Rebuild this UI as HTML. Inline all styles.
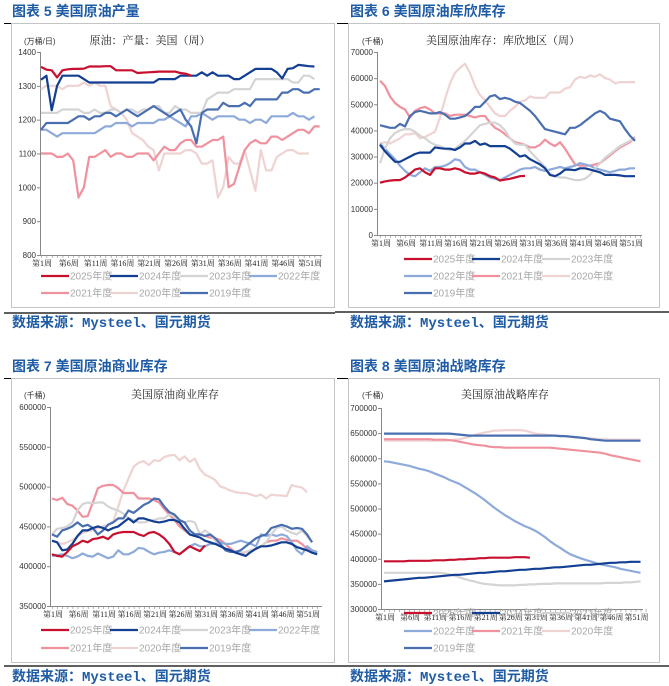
<!DOCTYPE html>
<html><head><meta charset="utf-8">
<style>
html,body{margin:0;padding:0;background:#fff;}
svg{display:block;}
.ttl{font-family:"Liberation Sans","Noto Sans CJK SC",sans-serif;font-size:14px;font-weight:bold;fill:#1f5ca6;}
.src{font-family:"Liberation Mono","Noto Sans CJK SC",monospace;font-size:14px;font-weight:bold;fill:#1f5ca6;}
.ct{font-family:"Liberation Serif","Noto Serif CJK SC",serif;font-size:11px;fill:#222;}
.un{font-family:"Liberation Sans","Noto Sans CJK SC",sans-serif;font-size:8px;fill:#333;}
.yt{font-family:"Liberation Sans",sans-serif;font-size:8px;fill:#333;}
.xt{font-family:"Liberation Serif","Noto Serif CJK SC",serif;font-size:8px;fill:#222;}
.lg{font-family:"Liberation Sans","Noto Sans CJK SC",sans-serif;font-size:10px;fill:#a8a8a8;}
</style></head>
<body>
<svg id="page" width="669" height="686" viewBox="0 0 669 686" xmlns="http://www.w3.org/2000/svg">
<text class="ttl" x="12" y="16">图表 5 美国原油产量</text>
<text class="ttl" x="350" y="16">图表 6 美国原油库欣库存</text>
<text class="ttl" x="12" y="371">图表 7 美国原油商业库存</text>
<text class="ttl" x="350" y="371">图表 8 美国原油战略库存</text>
<rect x="11.5" y="23.5" width="323" height="284" fill="none" stroke="#c4c4c4"/>
<rect x="348.5" y="23.5" width="311" height="284" fill="none" stroke="#c4c4c4"/>
<rect x="11.5" y="378.5" width="323" height="284" fill="none" stroke="#c4c4c4"/>
<rect x="348.5" y="378.5" width="311" height="284" fill="none" stroke="#c4c4c4"/>
<line x1="4" y1="23.5" x2="11" y2="23.5" stroke="#000"/>
<line x1="337" y1="23.5" x2="348" y2="23.5" stroke="#000"/>
<line x1="4" y1="378.5" x2="11" y2="378.5" stroke="#000"/>
<line x1="337" y1="378.5" x2="348" y2="378.5" stroke="#000"/>
<line x1="4" y1="313" x2="335" y2="313" stroke="#000" stroke-width="1.2"/>
<line x1="335" y1="312" x2="669" y2="312" stroke="#000" stroke-width="1.2"/>
<line x1="4" y1="666" x2="335" y2="666" stroke="#000" stroke-width="1.2"/>
<line x1="335" y1="666" x2="669" y2="666" stroke="#000" stroke-width="1.2"/>
<text class="src" x="12" y="327">数据来源：Mysteel、国元期货</text>
<text class="src" x="350" y="327">数据来源：Mysteel、国元期货</text>
<text class="src" x="12" y="681">数据来源：Mysteel、国元期货</text>
<text class="src" x="350" y="681">数据来源：Mysteel、国元期货</text>
</svg>
<script>
// ---------- Chart 1: production (万桶/日) ----------
const c1Ticks = [800, 900, 1000, 1100, 1200, 1300, 1400];
const c1y2025 = [1356,1348,1346,1325,1346,1349,1350,1350,1351,1357,1357,1357,1358,1358,1346,1346,1346,1346,1338,1339,1340,1341,1342,1342,1342,1342,1338,1336,1330];
const c1y2024 = [1318,1330,1228,1300,1330,1330,1330,1330,1320,1310,1310,1310,1310,1310,1310,1310,1310,1310,1310,1310,1310,1310,1320,1320,1320,1320,1330,1330,1330,1330,1340,1330,1340,1330,1330,1330,1320,1320,1330,1340,1350,1350,1350,1350,1340,1322,1350,1352,1362,1360,1358,1357];
const c1y2023 = [1220,1220,1220,1220,1230,1230,1230,1230,1220,1220,1230,1220,1220,1230,1230,1220,1230,1230,1220,1230,1230,1240,1240,1220,1220,1240,1230,1230,1220,1220,1220,1260,1270,1280,1280,1280,1290,1290,1290,1290,1320,1320,1320,1320,1320,1320,1320,1310,1310,1330,1330,1320];
const c1y2022 = [1170,1170,1160,1150,1160,1160,1160,1160,1160,1160,1160,1170,1180,1180,1190,1190,1190,1180,1190,1190,1190,1190,1200,1200,1210,1200,1190,1180,1210,1210,1220,1210,1200,1210,1210,1210,1210,1200,1200,1190,1200,1200,1190,1210,1210,1210,1210,1220,1210,1210,1200,1210];
const c1y2021 = [1100,1100,1100,1090,1090,1100,1080,970,1000,1090,1090,1100,1110,1090,1100,1100,1090,1090,1100,1100,1100,1080,1100,1120,1110,1110,1130,1140,1140,1120,1120,1130,1140,1140,1150,1000,1010,1060,1110,1130,1140,1130,1130,1150,1150,1140,1150,1160,1170,1170,1160,1180,1180];
const c1y2020 = [1290,1300,1300,1300,1290,1300,1300,1300,1310,1300,1310,1300,1300,1240,1230,1220,1200,1160,1150,1140,1120,1110,1050,1100,1100,1100,1100,1110,1110,1100,1070,1070,1080,970,1000,1090,1070,1070,1110,1050,990,1110,1050,1050,1090,1100,1110,1110,1100,1100,1100];
const c1y2019 = [1170,1190,1190,1190,1190,1190,1200,1210,1210,1200,1210,1210,1220,1220,1210,1220,1230,1220,1210,1220,1230,1240,1230,1220,1210,1220,1230,1200,1180,1130,1220,1230,1230,1230,1250,1240,1240,1240,1250,1240,1260,1260,1260,1260,1260,1280,1280,1290,1290,1280,1280,1290,1290];

// ---------- Chart 2: Cushing (千桶) ----------
const c2Ticks = [0, 10000, 20000, 30000, 40000, 50000, 60000, 70000];
const c2y2025 = [20000,20500,20800,21000,21000,22000,23500,25000,25500,24000,23000,25500,25500,25000,25000,25500,25000,24000,23500,23500,24000,23500,22500,22000,20800,21200,21500,22000,22500,22600];
const c2y2024 = [34500,32000,30000,28000,28000,29000,30000,31000,31500,31500,31500,33500,33200,33000,33000,32500,33500,35000,35000,36000,34500,35000,34000,34000,34000,34000,33000,31500,30000,30500,29000,28000,27000,25500,23000,22500,23500,25000,25000,24800,25500,25500,25000,24500,24000,23000,23000,23000,22800,22500,22500,22500];
const c2y2023 = [27500,33000,37000,39000,40000,40500,40500,39500,38000,37000,35500,34500,34000,33000,32500,33000,34500,36000,38000,40000,42000,42500,43000,43000,42000,40000,37000,35000,34500,34500,32000,30000,28000,26000,23500,22500,22000,22000,21500,21000,21000,21500,23000,25500,27500,29500,31000,32500,34000,35000,36000,37000];
const c2y2022 = [35000,33000,31000,29000,26500,24500,23000,22500,24000,25500,24500,26000,26000,26500,27500,29000,28500,26000,25000,25000,24000,23000,22000,21500,21000,22000,23000,24000,25000,25500,25500,26000,25000,24500,25000,25500,26000,25500,26000,26500,27500,27000,26500,25500,25000,24500,24000,24500,25000,25000,25500,25500];
const c2y2021 = [59000,57000,53000,50500,49000,48000,45000,47500,48500,49000,48000,46500,46500,46500,45500,46000,46000,46000,45500,45000,45500,45500,43000,41000,40000,38500,37000,35500,35000,34500,33500,33500,34500,36500,35000,34000,35500,33000,30000,27000,26500,26500,26500,27000,27500,29000,30500,32000,33500,34500,35500,37500];
const c2y2020 = [35000,35500,35000,36000,37000,38500,38500,39000,37000,37500,38500,39500,45000,52000,58000,62000,64000,65500,62000,57000,53500,51500,49000,46500,45500,45500,47500,49000,51000,51500,53000,52500,52500,52500,54500,54500,54500,56000,56500,59500,60500,60000,61000,60500,61500,60000,59500,58000,58500,58500,58500,58500];
const c2y2019 = [42000,41500,41000,41000,42500,41500,45500,47000,47500,47000,46500,46500,47000,46000,44500,44500,45000,45500,47000,49000,49000,51000,53000,53500,52000,52500,52000,51000,50500,49000,47500,45500,43000,40500,40000,39500,39000,38500,41000,41000,42000,43500,45000,46500,47500,46500,44500,44000,43500,40500,38000,36000];

// ---------- Chart 3: commercial (千桶, values in thousands) ----------
const c3Ticks = [350, 400, 450, 500, 550, 600];
const c3y2025 = [415,413,412,418,425,428,432,430,434,435,437,434,440,442,443,443,443,440,438,442,443,440,435,428,418,415,420,425,422,419,426];
const c3y2024 = [432,430,420,421,428,438,445,445,448,450,448,445,448,450,455,460,455,460,460,458,456,455,456,458,458,455,447,440,438,436,432,430,428,425,422,420,417,415,413,418,422,425,425,426,428,430,430,428,424,422,420,417,415];
const c3y2023 = [440,447,448,450,455,470,478,480,479,480,480,475,472,470,466,460,458,455,455,457,458,460,460,465,463,455,455,457,455,440,445,440,432,428,422,420,418,417,418,420,422,425,430,440,448,450,445,442,440,445,438,430];
const c3y2022 = [413,414,415,413,410,412,416,413,412,416,413,410,412,420,415,415,418,423,422,418,415,417,418,420,418,415,420,425,428,425,425,428,428,430,428,428,430,432,430,428,425,440,438,440,438,440,438,430,420,415,425,420,418];
const c3y2021 = [485,483,486,478,476,470,462,463,480,498,501,502,502,498,492,492,492,485,485,485,483,480,472,465,458,450,445,440,438,440,438,436,435,433,428,422,418,415,418,420,422,425,430,432,432,435,433,432,432,428,422,420,417];
const c3y2020 = [432,430,428,430,433,437,442,444,445,448,450,452,456,475,495,510,525,530,532,527,533,532,537,539,540,533,538,531,535,522,515,512,508,500,498,495,493,492,492,490,488,490,485,490,489,489,488,502,500,499,493];
const c3y2019 = [440,437,445,447,450,455,450,452,448,440,445,452,455,460,460,470,467,472,477,480,485,484,475,468,465,458,455,445,440,440,438,440,435,428,420,418,418,420,425,430,435,438,440,448,450,452,450,447,448,447,440,430];

// ---------- Chart 4: SPR (千桶, values in thousands) ----------
const c4Ticks = [300, 350, 400, 450, 500, 550, 600, 650, 700];
const c4y2025 = [395,395,395,395,395,396,396,396,396,396,397,397,397,398,398,399,399,400,400,401,401,402,402,402,402,402,403,403,403,402];
const c4y2024 = [355,356,357,358,359,360,361,362,362,363,364,365,366,367,368,368,369,370,371,372,372,373,374,375,375,376,377,378,378,379,380,380,381,382,383,383,384,385,386,387,388,388,389,390,391,392,392,393,393,394,394,394];
const c4y2023 = [372,372,372,372,372,372,372,372,372,372,372,372,371,369,366,363,360,357,355,352,350,349,348,347,347,347,347,348,348,349,349,350,350,350,351,351,351,351,351,351,351,351,351,351,352,352,352,352,353,353,354,355];
const c4y2022 = [594,593,591,589,587,585,582,579,577,574,570,566,562,557,553,549,543,537,531,524,517,509,501,494,487,481,475,470,465,461,456,450,443,435,428,422,415,409,405,401,398,395,392,389,387,385,383,380,378,376,374,372];
const c4y2021 = [638,638,638,638,638,638,638,638,638,638,637,637,637,636,635,633,631,629,627,626,625,623,622,622,621,621,621,621,621,621,621,621,621,621,620,619,618,617,616,615,614,613,612,611,609,606,604,602,600,598,596,594];
const c4y2020 = [635,635,635,635,635,635,635,635,635,635,635,635,635,636,637,638,640,643,646,649,651,653,655,655,656,656,656,656,655,652,649,648,647,646,645,645,644,643,642,641,640,640,639,638,638,637,637,637,637,637,637,637];
const c4y2019 = [649,649,649,649,649,649,649,649,649,649,649,649,649,649,648,647,646,645,645,645,645,645,645,645,645,645,645,645,645,645,645,645,645,645,645,644,644,643,642,641,640,638,637,636,635,635,635,635,635,635,635,635];

const weekLabels = ["第1周","第6周","第11周","第16周","第21周","第26周","第31周","第36周","第41周","第46周","第51周"];
const seriesNames = ["2025年度","2024年度","2023年度","2022年度","2021年度","2020年度","2019年度"];
const colors = ["#c8102e","#123f91","#d4d4d4","#8eaadb","#f0919e","#efd3d3","#4a6fb0"];

const NS = "http://www.w3.org/2000/svg";
const svg = document.getElementById("page");
function mk(tag, attrs, parent) {
  const e = document.createElementNS(NS, tag);
  for (const k in attrs) e.setAttribute(k, attrs[k]);
  (parent || svg).appendChild(e);
  return e;
}

function drawChart(cfg) {
  const g = mk("g", {});
  
  
  const yv = v => cfg.y0 + (v - cfg.vmin) / (cfg.vmax - cfg.vmin) * (cfg.y1 - cfg.y0);
  const xv = i => cfg.xs + i * cfg.step;
  const t = mk("text", {class: "ct", x: cfg.titleX, y: cfg.titleY, "text-anchor": "middle"}, g);
  t.textContent = cfg.title;
  
  
  const u = mk("text", {class: "un", x: cfg.unitX, y: cfg.titleY}, g);
  u.textContent = cfg.unit;
  
  
  const ya = mk("line", {x1: cfg.ax + 0.5, y1: cfg.y1, x2: cfg.ax + 0.5, y2: cfg.y0, stroke: "#888", "stroke-width": 1}, g);
  
  
  const xa = mk("line", {x1: cfg.ax, y1: cfg.y0 + 0.5, x2: cfg.axEnd, y2: cfg.y0 + 0.5, stroke: "#888", "stroke-width": 1}, g);
  
  
  for (const tv of cfg.ticks) {
    const ty = yv(tv);
    mk("line", {x1: cfg.ax - 3, y1: ty + 0.5, x2: cfg.ax, y2: ty + 0.5, stroke: "#888"}, g);
    const tl = mk("text", {class: "yt", x: cfg.ax - 4, y: ty + 3, "text-anchor": "end"}, g);
    tl.textContent = cfg.tickFmt(tv);
    
    
  }
  for (let i = 0; i < cfg.nWeeks; i++) {
    mk("line", {x1: xv(i) + 0.5, y1: cfg.y0, x2: xv(i) + 0.5, y2: cfg.y0 + 3, stroke: "#888", "stroke-width": 0.6}, g);
  }
  weekLabels.forEach((lab, k) => {
    const xl = mk("text", {class: "xt", x: xv(k * 5) + 1, y: cfg.y0 + 11, "text-anchor": "middle"}, g);
    xl.textContent = lab;
    
    
  });
  const order = [5, 4, 3, 2, 6, 1, 0];
  for (const s of order) {
    const d = cfg.series[s];
    const pts = d.map((v, i) => xv(i).toFixed(1) + "," + yv(v).toFixed(1)).join(" ");
    const pl = mk("polyline", {points: pts, fill: "none", stroke: colors[s], "stroke-width": 2.2, "stroke-linejoin": "round"}, g);
    
    
  }
  seriesNames.forEach((nm, s) => {
    const r = Math.floor(s / cfg.perRow), c = s % cfg.perRow;
    const lx = cfg.legX[c], ly = cfg.legY[r];
    const le = mk("g", {}, g);
    
    
    mk("line", {x1: lx, y1: ly, x2: lx + 28, y2: ly, stroke: colors[s], "stroke-width": 2.2}, le);
    const lt = mk("text", {class: "lg", x: lx + 29, y: ly + 3.5}, le);
    lt.textContent = nm;
  });
}

drawChart({id: "production", title: "原油：产量：美国（周）", titleX: 150, titleY: 44, unitX: 24, unit: "(万桶/日)",
  ax: 40, axEnd: 322, y0: 255, y1: 52, vmin: 800, vmax: 1400, xs: 41, step: 5.36, nWeeks: 53,
  ticks: c1Ticks, tickFmt: v => String(v),
  series: [c1y2025, c1y2024, c1y2023, c1y2022, c1y2021, c1y2020, c1y2019],
  perRow: 4, legX: [41, 110, 180, 249], legY: [276, 293]});

drawChart({id: "cushing", title: "美国原油库存：库欣地区（周）", titleX: 503, titleY: 44, unitX: 362, unit: "(千桶)",
  ax: 377, axEnd: 642, y0: 235, y1: 52, vmin: 0, vmax: 70000, xs: 380, step: 5.0, nWeeks: 53,
  ticks: c2Ticks, tickFmt: v => String(v),
  series: [c2y2025, c2y2024, c2y2023, c2y2022, c2y2021, c2y2020, c2y2019],
  perRow: 3, legX: [404, 472, 542], legY: [259, 276, 293]});

drawChart({id: "commercial", title: "美国原油商业库存", titleX: 175, titleY: 398, unitX: 24, unit: "(千桶)",
  ax: 50, axEnd: 322, y0: 606, y1: 407, vmin: 350, vmax: 600, xs: 52, step: 5.1, nWeeks: 53,
  ticks: c3Ticks, tickFmt: v => String(v * 1000),
  series: [c3y2025, c3y2024, c3y2023, c3y2022, c3y2021, c3y2020, c3y2019],
  perRow: 4, legX: [41, 110, 180, 249], legY: [630, 648]});

drawChart({id: "spr", title: "美国原油战略库存", titleX: 505, titleY: 398, unitX: 362, unit: "(千桶)",
  ax: 381, axEnd: 643, y0: 609, y1: 408, vmin: 300, vmax: 700, xs: 384, step: 5.03, nWeeks: 53,
  ticks: c4Ticks, tickFmt: v => String(v * 1000),
  series: [c4y2025, c4y2024, c4y2023, c4y2022, c4y2021, c4y2020, c4y2019],
  perRow: 3, legX: [404, 472, 542], legY: [613, 631, 648]});
</script>
</body></html>
